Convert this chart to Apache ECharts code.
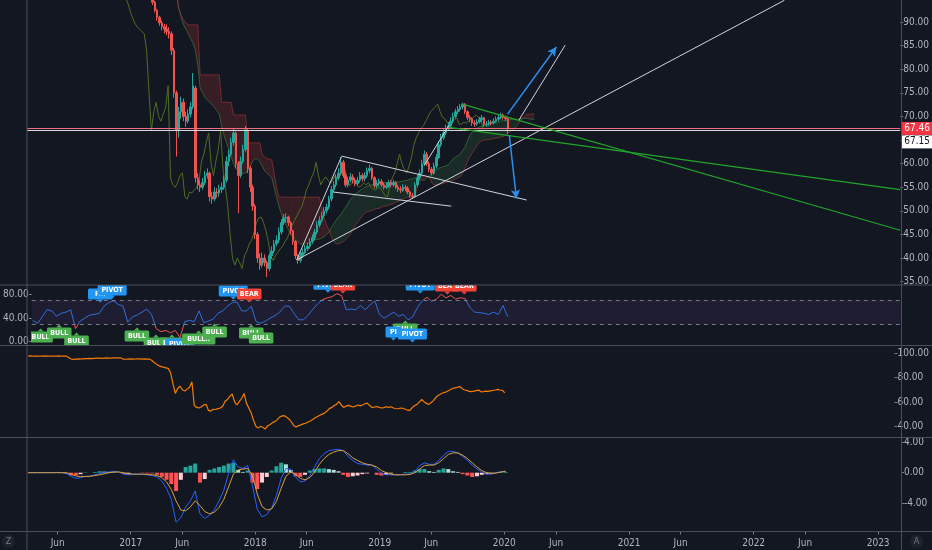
<!DOCTYPE html>
<html><head><meta charset="utf-8">
<script src="https://cdn.jsdelivr.net/npm/echarts@6/dist/echarts.min.js"></script>
<style>html,body{margin:0;padding:0;background:#131722;}#c{width:932px;height:550px;}</style>
</head><body><div id="c"></div>
<script>
const DAY = 86400000;
const ts = s => Date.parse(s + 'T00:00:00Z');

// ---- axis range & tick labels ----
const xStart = '2016-03-03', xEnd = '2023-03-09';
const timeTicks = ['2016-06-01','2017-01-01','2017-06-01','2018-01-01','2018-06-01','2019-01-01','2019-06-01',
  '2020-01-01','2020-06-01','2021-01-01','2021-06-01','2022-01-01','2022-06-01','2023-01-01'];
const priceTicks = [35,40,45,50,55,60,65,70,75,80,85,90];
const rsiTicks = [0,40,80];
const lineTicks = [40,60,80,100];
const macdTicks = [-4,0,4];

// ---- weekly candles [open, close, low, high] starting 2016-03-07 ----
const candleStart = '2016-03-07';
const candleStepDays = 7;
const candles = [
[97.5,97.6,97.3,97.9],[97.6,97.8,97.4,98.0],[97.8,97.5,97.3,98.0],[97.5,97.6,97.3,97.8],[97.6,97.7,97.4,97.9],
[97.7,97.5,97.3,97.9],[97.5,97.6,97.3,97.8],[97.6,97.8,97.4,98.0],[97.8,97.6,97.4,98.0],[97.6,97.5,97.3,97.8],
[97.5,97.7,97.3,97.9],[97.7,97.6,97.4,97.9],[97.6,97.6,97.4,97.8],[97.6,97.8,97.4,98.0],[97.8,97.5,97.3,98.0],
[97.5,97.6,97.3,97.8],[97.6,97.6,97.4,97.8],[97.6,96.5,96.3,97.8],[96.5,95.2,95.0,96.7],[95.2,94.9,94.8,95.4],
[94.9,95.1,94.8,95.3],[95.1,95.3,94.9,95.5],[95.3,95.2,95.0,95.5],[95.2,95.4,95.0,95.6],[95.4,95.6,95.2,95.8],
[95.6,95.5,95.3,95.8],[95.5,95.7,95.3,95.9],[95.7,95.6,95.4,95.9],[95.6,95.8,95.4,96.0],[95.8,95.9,95.6,96.1],
[95.9,96.0,95.7,96.2],[96.0,95.8,95.6,96.2],[95.8,96.0,95.6,96.2],[96.0,96.1,95.8,96.3],[96.1,95.9,95.7,96.3],
[95.9,96.0,95.7,96.2],[96.0,96.2,95.8,96.4],[96.2,96.1,95.9,96.4],[96.1,96.2,95.9,96.4],[96.2,96.2,96.0,96.4],
[96.2,95.1,94.9,96.4],[95.1,95.0,94.8,95.3],[95.0,95.2,94.8,95.4],[95.2,95.3,95.0,95.5],[95.3,95.1,94.9,95.5],
[95.1,95.2,94.9,95.4],[95.2,95.4,95.0,95.6],[95.4,95.3,95.1,95.6],[95.3,95.2,95.0,95.5],[95.2,95.3,95.0,95.5],
[95.3,95.2,95.0,95.5],[95.2,95.2,95.0,95.4],
// 2017-03-06 onwards
[95.2,94.2,93.6,95.6],[94.2,92.5,92.0,94.5],[92.5,91.0,90.3,92.8],[91.0,89.8,89.2,91.3],[89.8,89.0,88.2,90.3],
[89.0,88.5,87.6,89.6],[88.5,88.0,87.2,89.5],[88.0,87.5,86.5,88.9],[87.5,84.0,83.0,88.0],[84.0,75.0,74.0,84.5],
[75.0,67.0,61.5,75.5],[67.0,71.0,65.5,72.0],[71.0,73.0,69.5,74.2],[73.0,70.0,69.0,73.8],[70.0,69.0,67.8,71.0],
[69.0,70.5,68.5,71.5],[70.5,72.0,69.8,73.0],[72.0,76.5,71.5,79.2],[76.0,57.0,56.0,76.5],[57.0,55.5,54.5,58.0],
[55.5,55.0,54.0,56.5],[55.0,56.0,54.5,57.0],[56.0,57.5,55.5,58.5],[57.5,58.0,56.8,59.0],[58.0,53.0,52.0,58.3],
[53.0,52.5,51.5,54.0],[52.5,54.0,52.0,55.0],[54.0,53.8,52.8,54.8],[53.8,54.5,53.0,55.5],[54.5,55.0,53.8,56.0],
[55.0,56.5,54.5,57.5],[56.5,60.5,56.0,61.5],[60.5,62.0,59.5,63.0],[62.0,64.5,61.5,65.5],[64.5,66.5,63.8,67.5],
[66.5,60.0,59.0,66.8],[60.0,57.5,49.5,60.5],[57.5,60.5,57.0,61.5],[60.5,63.0,60.0,64.0],[63.0,67.0,62.5,68.0],
[67.0,59.0,58.0,67.5],[59.0,55.0,54.0,59.5],[55.0,51.0,50.0,55.5],[51.0,45.0,44.0,51.5],[45.0,40.0,39.0,45.5],
[40.0,38.5,37.5,41.0],[38.5,40.0,38.0,41.2],[40.0,39.0,38.2,40.8],[39.0,37.8,36.0,39.5],[37.8,40.5,37.2,41.0],
[40.5,41.5,39.8,42.5],[41.5,43.0,41.0,43.8],[43.0,43.8,42.5,44.8],[43.8,45.5,43.2,46.5],[45.5,47.5,45.0,48.2],
[47.5,48.5,47.0,49.3],[48.5,48.7,47.5,49.5],[48.7,47.5,46.8,49.0],[47.5,45.8,45.0,47.8],[45.8,43.5,42.8,46.0],
[43.5,40.5,39.8,43.8],[40.5,39.5,38.8,40.8],[39.5,40.5,39.0,41.2],[40.5,41.2,40.0,42.0],[41.2,42.0,40.8,42.8],
[42.0,42.5,41.5,43.3],[42.5,43.5,42.0,44.2],[43.5,44.3,43.0,45.0],[44.3,45.5,43.8,46.2],[45.5,47.0,45.0,47.8],
[47.0,48.0,46.5,48.8],[48.0,49.0,47.5,49.8],[49.0,50.0,48.5,50.8],[50.0,50.8,49.5,51.5],[50.8,52.5,50.3,53.2],
[52.5,54.5,52.0,55.3],[54.5,55.5,54.0,56.3],[55.5,57.0,55.0,57.8],[57.0,58.0,56.5,59.0],[58.0,60.3,57.5,61.4],
[60.3,57.5,57.0,60.8],[57.5,55.5,55.0,58.0],[55.5,56.5,55.0,57.2],[56.5,57.2,56.0,58.0],[57.2,56.5,55.8,57.8],
[56.5,55.8,55.2,57.0],[55.8,56.5,55.3,57.2],[56.5,57.5,56.0,58.2],[57.5,56.8,56.2,58.0],[56.8,57.5,56.3,58.2],
[57.5,58.5,57.0,59.2],[58.5,59.0,58.0,59.8],[59.0,57.0,56.5,59.3],[57.0,55.3,54.8,57.3],[55.3,55.8,54.8,56.5],
[55.8,56.2,55.2,56.8],[56.2,55.5,55.0,56.7],[55.5,55.0,54.5,56.0],[55.0,55.3,54.6,56.0],[55.3,56.0,54.9,56.6],
[56.0,55.5,55.0,56.5],[55.5,56.0,55.1,56.6],[56.0,55.0,54.6,56.3],[55.0,54.6,54.0,55.5],[54.6,54.4,53.8,55.2],
[54.4,55.0,54.0,55.6],[55.0,54.8,54.2,55.5],[54.8,54.0,53.5,55.2],[54.0,53.2,52.8,54.3],[53.2,53.0,52.5,53.8],
[53.0,55.5,52.8,56.0],[55.5,57.0,55.0,57.6],[57.0,58.0,56.5,58.8],[58.0,60.0,57.5,60.8],[60.0,62.0,59.5,62.8],
[62.0,60.0,59.5,62.5],[60.0,58.8,58.2,60.5],[58.8,58.0,57.5,59.3],[58.0,59.5,57.6,60.2],[59.5,61.3,59.0,62.0],
[61.3,64.0,61.0,64.8],[64.0,65.5,63.5,66.3],[65.5,66.5,65.0,67.3],[66.5,67.5,66.0,68.3],[67.5,68.0,67.0,68.8],
[68.0,69.0,67.5,69.8],[69.0,70.0,68.5,70.8],[70.0,71.0,69.5,71.6],[71.0,71.5,70.5,72.2],[71.5,72.0,71.0,72.6],
[72.0,72.6,71.5,72.9],[72.6,71.0,70.5,72.8],[71.0,69.8,69.2,71.3],[69.8,69.5,68.8,70.3],[69.5,68.6,68.0,69.8],
[68.6,68.4,67.8,69.2],[68.4,68.8,68.0,69.4],[68.8,69.3,68.5,69.9],[69.3,69.7,68.9,70.3],[69.7,68.3,67.9,69.9],
[68.3,68.4,67.8,69.0],[68.4,68.8,68.0,69.3],[68.8,68.6,68.1,69.2],[68.6,69.0,68.3,69.6],[69.0,69.4,68.7,70.0],
[69.4,69.8,69.0,70.3],[69.8,70.3,69.4,70.8],[70.3,69.8,69.3,70.6],[69.8,69.5,69.0,70.2],[69.5,67.46,66.2,69.8]
];
const laggingShiftDays = 73;

// ---- Ichimoku cloud, weekly from 2017-05-15 ----
const cloudStart = '2017-05-15';
const spanA = [
96,93,91,89.5,88.5,87.5,86.5,85.5,84,81,
76,75,74,73.5,73,72.5,72,71.2,70.5,68,
66,64.5,63,61.5,60,59,58.5,58,58,58,
58.5,59.5,60.5,61,61,60.5,59.5,58.5,58,57.5,
57,55,53,51,49.5,48,47,46,45,44.5,
44,43.5,43,43,43,43,43.2,43.5,43.8,44,
44,44.3,44.5,45,45.5,46.5,47.2,48,48.7,49.3,
50,50.8,51.6,52.5,53,53.5,54,54.3,54.7,55,
55.2,55.4,55.5,55.7,55.8,56,56,56,56,56,
56,56,56.1,56.1,56.2,56.3,56.4,56.5,56.7,56.8,
57,56.8,56.5,56.5,56.5,57,57.5,58,58.5,58.7,
59,59.2,59.4,59.5,59.8,60.3,61,61.4,61.7,62,
62.8,63.5,64.8,66,66.6,67.2,67.5,67.8,67.9,68,
68.2,68.3,68.5,68.6,68.7,68.8,69,69.1,69.2,69.3,
69.3,69.4,69.4,69.4,69.5,69.5,69.6,69.6,69.5,69.4,
69.4];
const spanB = [
97,93,91.5,90.5,89.8,89.4,89.4,89.4,89.4,89.4,
78.8,78.8,78.8,78.8,78.8,78.8,78.8,78.8,78.8,73,
73,73,73,73,70.3,70.3,70.3,70.3,70.3,70.3,
64.4,64.4,64.4,64.4,64.4,64.4,62,61.5,61,61,
60.8,58,55,53,52.9,52.9,52.9,52.9,52.9,52.9,
52.9,52.9,52.9,52.9,52.9,52.9,52.9,52.9,52.9,52.9,
52.9,50.5,48.5,47,46,44.5,43.5,43,43,43.2,
43.5,44,44.5,45,46,47,47.5,48.3,49,49.5,
49.8,50,50,50.3,50.5,50.5,50.8,51,51,51.2,
51.4,51.5,51.8,52,52.3,52.5,52.7,52.9,52.9,52.9,
52.9,55,57,57.2,57.5,57.3,57,56,55.5,55.5,
55.5,55.7,55.8,56,56.2,56.3,56.5,56.7,57,57.2,
58,59,60.3,61.4,62.2,63,63.8,64.5,64.8,65,
65,65.1,65.2,65.3,65.4,65.5,65.6,65.8,66.1,66.5,
66.8,67.2,67.5,68.2,69,69.5,70,70.5,70.5,70.5,
70.5];

// ---- indicators, every 14 days from 2016-03-06 ----
const indStart = '2016-03-06';
const indStepDays = 14;
const rsi = [
36,31,42,54,52,43,48,50,54,22,
35,40,45,46,48,60,66,69,63,60,
33,42,45,50,55,46,22,17,19,15,
19,7,34,36,34,52,32,35,38,48,
52,60,66,67,52,52,60,34,31,35,
40,44,50,60,60,48,37,37,45,55,
64,71,74,76,81,78,54,55,54,61,
54,62,69,46,40,45,50,43,46,37,
42,58,69,75,68,72,80,74,78,72,
74,73,58,50,49,48,46,50,46,61,
42];
const macd = [
0,0,0,0,0,0,0.05,0,-0.1,-0.47,
-0.75,-0.65,-0.47,-0.47,-0.28,-0.1,0,0.1,0.14,0.1,
-0.19,-0.28,-0.19,-0.19,-0.23,-0.28,-0.37,-0.56,-1.1,-2.05,
-3.5,-6.5,-5.9,-4.5,-3.7,-2.4,-5.4,-6.0,-5.6,-4.9,
-3.7,-2.3,-0.1,1.7,0.75,0.55,0.95,-1.7,-4.8,-5.8,
-5.5,-4.65,-3.0,-0.75,0.55,0.45,-0.55,-1.2,-1.1,-0.37,
0.75,1.85,2.5,2.9,3.0,3.07,2.9,2.15,1.6,1.2,
1.1,1.0,1.0,0.47,-0.1,-0.28,-0.28,-0.28,-0.28,-0.19,
-0.19,0.19,0.93,1.3,1.1,1.1,1.6,2.3,2.8,2.8,
2.6,2.15,1.6,1.0,0.47,0.1,-0.19,-0.19,0,0.14,
0.19];
const signal = [
0,0,0,0,0,0,0,0,0,-0.19,
-0.42,-0.51,-0.51,-0.47,-0.37,-0.28,-0.14,0,0.09,0.09,
0,-0.14,-0.19,-0.19,-0.19,-0.23,-0.28,-0.37,-0.65,-1.2,
-2.2,-3.7,-4.9,-5.0,-4.5,-3.7,-4.3,-5.1,-5.4,-5.2,
-4.55,-3.5,-1.85,-0.19,0.37,0.47,0.56,-0.37,-2.8,-4.45,
-4.9,-4.75,-3.8,-2.05,-0.47,0.09,-0.19,-0.75,-0.93,-0.65,
0.09,1.1,1.85,2.4,2.7,2.9,2.9,2.5,1.95,1.6,
1.3,1.1,1.0,0.75,0.28,0,-0.19,-0.28,-0.28,-0.28,
-0.23,0,0.47,0.93,1.0,1.0,1.3,1.85,2.4,2.6,
2.6,2.3,1.85,1.3,0.75,0.28,0,-0.09,-0.05,0.09,
0.19];
const hist = [
0,0,0,0,0,0,0.05,0,-0.1,-0.35,
-0.35,-0.2,0.05,0,0.1,0.18,0.14,0.1,0.05,0,
-0.18,-0.14,0,0,-0.05,-0.1,-0.1,-0.28,-0.55,-0.93,
-1.5,-2.4,-0.93,0.75,0.93,1.2,-1.3,-0.84,0.37,0.56,
0.75,0.93,1.2,1.3,0.37,0.1,0.28,-1.3,-2.15,-1.3,
-0.56,0.28,0.84,1.3,1.1,0.37,-0.47,-0.56,-0.28,0.28,
0.47,0.56,0.56,0.47,0.37,0.19,-0.28,-0.56,-0.47,-0.37,
-0.19,-0.1,0,-0.28,-0.37,-0.28,-0.1,0,0,0.1,
0.1,0.28,0.47,0.47,0.19,0.1,0.37,0.56,0.47,0.19,
0.1,-0.19,-0.37,-0.56,-0.47,-0.28,-0.19,-0.1,0.05,0.1,
0.05];

// ---- price lines ----
const lastPrice = 67.46;
const refPrice = 67.15;

// ---- RSI pane signal labels ----
const rsiLabelDates = ['2016-03-29','2016-05-23','2016-07-13','2016-09-21','2016-10-26','2017-01-07','2017-03-04',
  '2017-04-20','2017-05-13','2017-07-08','2017-08-24','2017-10-18','2017-12-04','2017-12-10','2018-01-08',
  '2018-07-24','2018-09-06','2019-03-09','2019-02-02','2019-03-30','2019-04-22','2019-07-11','2019-08-30'];
const rsiLabelLevels = [7.9,14.7,1.2,80.4,87.2,9.6,-2,-2,-4,4.5,16.4,85.5,80.4,14.7,6.2,97,95.6,21.4,16.4,13,95.6,94,94];
const rsiLabelKinds = ['BULL','BULL','BULL','PIVOT','PIVOT','BULL','BULL','BULL','PIVOT','BULL','BULL','PIVOT','BEAR',
  'BULL','BULL','PIVOT','BEAR','BULL','PIVOT','PIVOT','PIVOT','BEAR','BEAR'];
const rsiLabelTexts = ['BULL','BULL','BULL','P...','PIVOT','BULL','BULL','BULL','PIVOT','BULL..','BULL','PIVOT','BEAR',
  'BULL','BULL','PIVOT','BEAR','BULL','PI','PIVOT','PIVOT','BEAR','BEAR'];

// ---- drawings [date1, price1, date2, price2] ----
const whiteLines = [
  ['2018-05-03',39.6,'2018-09-12',61.5],
  ['2018-05-03',39.6,'2022-04-03',94.6],
  ['2018-09-12',61.6,'2020-03-08',52.3],
  ['2018-08-17',54.0,'2019-07-31',51.0],
  ['2019-05-13',59.7,'2019-07-24',68.1],
  ['2020-02-14',69.2,'2020-06-29',85.1]
];
const greenLines = [
  ['2019-09-01',72.6,'2023-03-09',45.9],
  ['2019-07-24',67.7,'2023-03-09',54.5]
];
const blueArrows = [
  ['2020-01-12',70.5,'2020-06-03',84.7],
  ['2020-01-17',66.0,'2020-02-07',52.6]
];

// ================= build =================
const FONT = "'Liberation Sans Narrow','DejaVu Sans Condensed','Liberation Sans',sans-serif";
const TXT = '#b2b5be';
const UP = '#26a69a', DOWN = '#ef5350';
const X_MIN = ts(xStart), X_MAX = ts(xEnd);
const cT0 = ts(candleStart), clT0 = ts(cloudStart), iT0 = ts(indStart);
const cTime = i => cT0 + i * candleStepDays * DAY;
const iTime = i => iT0 + i * indStepDays * DAY;
const clTime = i => clT0 + i * 7 * DAY;

const candleData = candles.map((c, i) => [cTime(i), c[0], c[1], c[2], c[3]]);
const closeLine = candles.map((c, i) => [cTime(i), c[1]]);
const laggingLine = candles.map((c, i) => [cTime(i) - laggingShiftDays * DAY, c[1]]);

const seg = (arr, color, width, arrow) => arr.map(d => [
  {coord: [ts(d[0]), d[1]], symbol: 'none', lineStyle: {color, width, type: 'solid'}},
  {coord: [ts(d[2]), d[3]], symbol: arrow ? 'arrow' : 'none', symbolSize: arrow ? [7, 9] : 0}
]);

const xAxes = [0,1,2,3].map(gi => ({
  type: 'value', gridIndex: gi, min: X_MIN, max: X_MAX, position: 'bottom',
  splitLine: {show: false}, axisLine: {show: false, onZero: false},
  axisTick: gi === 3 ? {show: true, customValues: timeTicks.map(ts), length: 3, lineStyle: {color: '#787b86'}} : {show: false},
  axisLabel: gi === 3 ? {
    show: true, customValues: timeTicks.map(ts), color: TXT, fontFamily: FONT, fontSize: 10, margin: 7,
    formatter: v => { const d = new Date(v); return d.getUTCMonth() === 0 ? String(d.getUTCFullYear()) : 'Jun'; }
  } : {show: false}
}));

const yAx = (gi, min, max, ticks, pos) => ({
  type: 'value', gridIndex: gi, min, max, position: pos, scale: true,
  splitLine: {show: false}, axisLine: {show: false, onZero: false},
  axisTick: {show: true, customValues: ticks, length: 3, lineStyle: {color: '#787b86'}},
  axisLabel: {show: true, customValues: ticks, color: TXT, fontFamily: FONT, fontSize: 10, margin: 3,
    formatter: v => v.toFixed(2)}
});

const labelColors = {BULL: '#4caf50', BEAR: '#f44336', PIVOT: '#2196f3'};

const sepColor = '#4a4e5a';
const hLine = y => ({type: 'line', silent: true, z: 100, shape: {x1: 0, y1: y, x2: 932, y2: y}, style: {stroke: sepColor, lineWidth: 1}});
const vLine = x => ({type: 'line', silent: true, z: 100, shape: {x1: x, y1: 0, x2: x, y2: 550}, style: {stroke: sepColor, lineWidth: 1}});

const option = {
  backgroundColor: '#131722',
  animation: false,
  grid: [
    {left: 27, right: 31, top: 0, height: 285},
    {left: 27, right: 31, top: 285, height: 60.5},
    {left: 27, right: 31, top: 345.5, height: 92},
    {left: 27, right: 31, top: 437.5, height: 94}
  ],
  xAxis: xAxes,
  yAxis: [
    yAx(0, 34.3, 94.66, priceTicks, 'right'),
    yAx(1, -6.4, 95.7, rsiTicks, 'left'),
    yAx(2, 30.8, 106.3, lineTicks, 'right'),
    yAx(3, -7.72, 4.62, macdTicks, 'right')
  ],
  visualMap: [{
    type: 'piecewise', show: false, seriesIndex: 6, dimension: 1,
    pieces: [{lt: 30, color: '#ef5350'}, {gte: 30, lte: 70, color: '#2f6fd6'}, {gt: 70, color: '#ef5350'}]
  }],
  graphic: [
    hLine(285), hLine(345.5), hLine(437.5), hLine(531.5), vLine(27), vLine(901.5),
    {type: 'rect', silent: true, shape: {x: 2, y: 535, width: 13, height: 13, r: 6}, style: {fill: '#1e222d'}},
    {type: 'text', silent: true, x: 8.5, y: 541.5, style: {text: 'Z', fill: '#787b86', font: '9px ' + FONT, align: 'center', verticalAlign: 'middle'}},
    {type: 'rect', silent: true, shape: {x: 910, y: 535, width: 13, height: 13, r: 6}, style: {fill: '#1e222d'}},
    {type: 'text', silent: true, x: 916.5, y: 541.5, style: {text: 'A', fill: '#787b86', font: '9px ' + FONT, align: 'center', verticalAlign: 'middle'}}
  ],
  series: [
    { // 0 candles
      type: 'candlestick', xAxisIndex: 0, yAxisIndex: 0, z: 4, barWidth: 2,
      data: candleData,
      encode: {x: 0, y: [1, 2, 3, 4]},
      itemStyle: {color: UP, color0: DOWN, borderColor: UP, borderColor0: DOWN, borderWidth: 1},
      markLine: {
        silent: true, symbol: ['none', 'none'], animation: false,
        data: [
          {yAxis: lastPrice, lineStyle: {color: '#ef6f7f', width: 1, type: 'solid'},
            label: {show: true, position: 'end', distance: 1, formatter: lastPrice.toFixed(2), color: '#fff',
              backgroundColor: '#f23645', padding: [2, 3, 1, 3], fontFamily: FONT, fontSize: 10}},
          {yAxis: refPrice, lineStyle: {color: '#d8d8dc', width: 1, type: 'solid'},
            label: {show: true, position: 'end', distance: 1, offset: [0, 12], formatter: refPrice.toFixed(2), color: '#131722',
              backgroundColor: '#ffffff', padding: [2, 3, 1, 3], fontFamily: FONT, fontSize: 10}}
        ]
      }
    },
    { // 1 lagging span
      type: 'line', xAxisIndex: 0, yAxisIndex: 0, z: 2, data: laggingLine, symbol: 'none', silent: true,
      lineStyle: {color: '#4f6e24', width: 1}
    },
    { // 2 cloud fill (polygons between span A and span B)
      type: 'custom', xAxisIndex: 0, yAxisIndex: 0, z: 1, clip: true, silent: true,
      data: spanA.slice(0, -1).map((a, i) => [clTime(i), a, spanB[i]]),
      encode: {x: 0, y: [1, 2]},
      renderItem: (params, api) => {
        const i = params.dataIndex;
        const t0 = clTime(i), t1 = clTime(i + 1);
        const a0 = api.coord([t0, spanA[i]]), a1 = api.coord([t1, spanA[i + 1]]);
        const b0 = api.coord([t0, spanB[i]]), b1 = api.coord([t1, spanB[i + 1]]);
        const red = spanB[i] + spanB[i + 1] > spanA[i] + spanA[i + 1];
        return {type: 'polygon', shape: {points: [a0, a1, b1, b0]},
          style: {fill: red ? 'rgba(244,67,54,0.17)' : 'rgba(76,175,80,0.14)', stroke: null}};
      }
    },
    { // 3 span A
      type: 'line', xAxisIndex: 0, yAxisIndex: 0, z: 2, data: spanA.map((v, i) => [clTime(i), v]), symbol: 'none', silent: true,
      lineStyle: {color: 'rgba(67,160,71,0.5)', width: 1}
    },
    { // 4 span B
      type: 'line', xAxisIndex: 0, yAxisIndex: 0, z: 2, data: spanB.map((v, i) => [clTime(i), v]), symbol: 'none', silent: true,
      lineStyle: {color: 'rgba(200,60,60,0.5)', width: 1}
    },
    { // 5 drawings
      type: 'line', xAxisIndex: 0, yAxisIndex: 0, z: 6, data: [], symbol: 'none', silent: true,
      markLine: {
        silent: true, animation: false, symbol: ['none', 'none'], label: {show: false},
        data: [].concat(seg(whiteLines, '#d1d4dc', 1, false), seg(greenLines, '#22a52a', 1.2, false), seg(blueArrows, '#2a8ff0', 1.5, true))
      }
    },
    { // 6 RSI
      type: 'line', xAxisIndex: 1, yAxisIndex: 1, z: 3, data: rsi.map((v, i) => [iTime(i), v]), symbol: 'none', silent: true,
      lineStyle: {width: 1},
      markArea: {silent: true, itemStyle: {color: 'rgba(126,87,194,0.10)'}, data: [[{yAxis: 30}, {yAxis: 70}]]},
      markLine: {silent: true, symbol: ['none', 'none'], label: {show: false},
        lineStyle: {color: '#787b86', type: [4, 4], width: 1}, data: [{yAxis: 70}, {yAxis: 30}]}
    },
    { // 7 RSI labels
      type: 'custom', xAxisIndex: 1, yAxisIndex: 1, z: 5, clip: true, silent: true,
      data: rsiLabelDates.map((d, i) => [ts(d), rsiLabelLevels[i]]),
      encode: {x: 0, y: 1},
      renderItem: (params, api) => {
        const i = params.dataIndex;
        const p = api.coord([api.value(0), api.value(1)]);
        const kind = rsiLabelKinds[i], text = rsiLabelTexts[i];
        const w = Math.max(10, text.length * 4.4 + 7), h = 11;
        const color = labelColors[kind];
        const x0 = p[0] - w / 2, y0 = p[1] - h / 2;
        const tri = kind === 'BULL'
          ? [[p[0] - 3, y0], [p[0] + 3, y0], [p[0], y0 - 3]]
          : [[p[0] - 3, y0 + h], [p[0] + 3, y0 + h], [p[0], y0 + h + 3]];
        return {type: 'group', children: [
          {type: 'polygon', shape: {points: tri}, style: {fill: color}},
          {type: 'rect', shape: {x: x0, y: y0, width: w, height: h, r: 1.5}, style: {fill: color}},
          {type: 'text', x: p[0], y: p[1] + 0.5, style: {text, fill: '#ffffff', font: 'bold 7px ' + FONT, align: 'center', verticalAlign: 'middle'}}
        ]};
      }
    },
    { // 8 close line
      type: 'line', xAxisIndex: 2, yAxisIndex: 2, z: 3, data: closeLine, symbol: 'none', silent: true,
      lineStyle: {color: '#f57c00', width: 1.2},
      markLine: {silent: true, symbol: ['none', 'none'],
        data: [{yAxis: lastPrice, lineStyle: {opacity: 0},
          label: {show: true, position: 'end', distance: 1, formatter: lastPrice.toFixed(2), color: '#fff',
            backgroundColor: '#f57c00', padding: [2, 3, 1, 3], fontFamily: FONT, fontSize: 10}}]}
    },
    { // 9 histogram
      type: 'bar', xAxisIndex: 3, yAxisIndex: 3, z: 2, barWidth: 4, silent: true,
      data: hist.map((v, i) => [iTime(i), v]),
      itemStyle: {color: p => {
        const i = p.dataIndex, v = hist[i], pv = i ? hist[i - 1] : 0;
        return v >= 0 ? (v >= pv ? '#26a69a' : '#b2dfdb') : (v <= pv ? '#ff5252' : '#ffcdd2');
      }}
    },
    { // 10 MACD
      type: 'line', xAxisIndex: 3, yAxisIndex: 3, z: 3, data: macd.map((v, i) => [iTime(i), v]), symbol: 'none', silent: true,
      lineStyle: {color: '#2962ff', width: 1}
    },
    { // 11 signal
      type: 'line', xAxisIndex: 3, yAxisIndex: 3, z: 3, data: signal.map((v, i) => [iTime(i), v]), symbol: 'none', silent: true,
      lineStyle: {color: '#d9a13c', width: 1}
    }
  ]
};

const chart = echarts.init(document.getElementById('c'), null, {renderer: 'canvas'});
chart.setOption(option);
</script>
</body></html>
